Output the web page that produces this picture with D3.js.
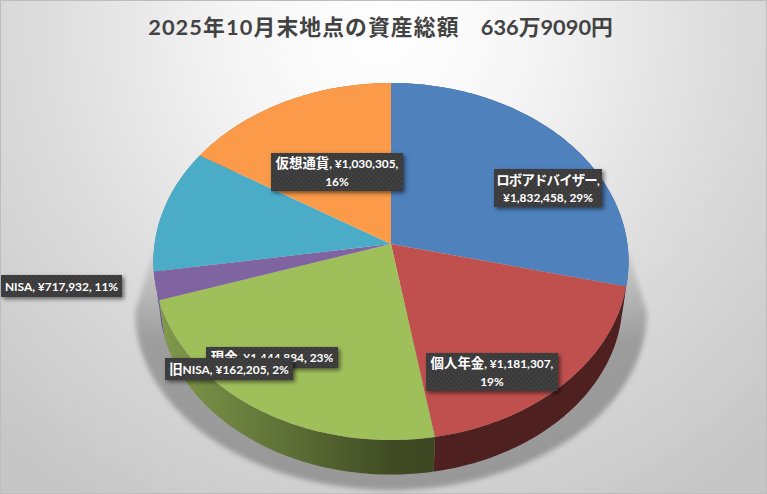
<!DOCTYPE html>
<meta charset="utf-8">
<style>
html, body { margin: 0; padding: 0; background: #fff; }
svg { display: block; }
.title { font: bold 21.8px Lato, "Noto Sans CJK JP", sans-serif; fill: #434343; text-anchor: middle; }
.lbl { font: bold 11.9px Lato, "Noto Sans CJK JP", sans-serif; fill: #fff; text-anchor: middle; }
.lbl .jp { font-size: 13.4px; }
</style>
<svg width="767" height="494"></svg>
<script src="https://d3js.org/d3.v7.min.js"></script>
<script>

var titleLeft = "2025年10月末地点の資産総額";
var titleRight = "636万9090円";
var categories = ["ロボアドバイザー", "個人年金", "現金", "旧NISA", "NISA", "仮想通貨"];
var values = [1832458, 1181307, 1444884, 162205, 717932, 1030305];
var percents = [29, 19, 23, 2, 11, 16];
var colors = ["#4f81bd", "#c0504d", "#9fbf5b", "#8064a2", "#4bacc8", "#fb9a48"];
var sideColors = ["#3a5f8c", "#4f2020", "url(#greenSide)", "#6a5190", "#37808f", "#b8702f"];

var svg = d3.select("svg"),
    width = +svg.attr("width"),
    height = +svg.attr("height");

// pie is a tilted disc: circle points go through a small perspective divide
var cx = 391, cy = 244, rx = 236.4, ry = 176.8, k = 0.098;
var cyLow = 283.5, scaleLow = 0.975;

function project(a, s, y0) {
  var u = Math.sin(a), v = -Math.cos(a), w = 1 - k * v;
  return [cx + s * rx * u / w, y0 + s * ry * v / w];
}

function arcPoints(d, s, y0) {
  var n = Math.max(2, Math.ceil((d.endAngle - d.startAngle) * 60));
  return d3.range(n + 1).map(function(i) {
    return project(d.startAngle + (d.endAngle - d.startAngle) * i / n, s, y0);
  });
}

var line = d3.line();
var defs = svg.append("defs");

var bg = defs.append("radialGradient").attr("id", "bg")
    .attr("gradientUnits", "userSpaceOnUse")
    .attr("cx", 383).attr("cy", 30).attr("r", 560);
bg.append("stop").attr("offset", 0).attr("stop-color", "#ffffff");
bg.append("stop").attr("offset", 0.25).attr("stop-color", "#f6f6f6");
bg.append("stop").attr("offset", 0.6).attr("stop-color", "#dddddd");
bg.append("stop").attr("offset", 1).attr("stop-color", "#c6c6c6");

var gs = defs.append("linearGradient").attr("id", "greenSide")
    .attr("gradientUnits", "userSpaceOnUse")
    .attr("x1", 160).attr("x2", 433).attr("y1", 0).attr("y2", 0);
gs.append("stop").attr("offset", 0).attr("stop-color", "#80994b");
gs.append("stop").attr("offset", 0.45).attr("stop-color", "#5f7237");
gs.append("stop").attr("offset", 0.85).attr("stop-color", "#404b23");
gs.append("stop").attr("offset", 1).attr("stop-color", "#3d4722");

var sg = defs.append("linearGradient").attr("id", "shadowFill")
    .attr("gradientUnits", "userSpaceOnUse")
    .attr("x1", 0).attr("x2", 0).attr("y1", 245).attr("y2", 340);
sg.append("stop").attr("offset", 0).attr("stop-color", "#000").attr("stop-opacity", 0.05);
sg.append("stop").attr("offset", 1).attr("stop-color", "#000").attr("stop-opacity", 0.27);

defs.append("filter").attr("id", "blur").attr("x", "-10%").attr("y", "-10%")
    .attr("width", "120%").attr("height", "120%")
  .append("feGaussianBlur").attr("stdDeviation", 2.5);

var ds = defs.append("filter").attr("id", "boxShadow").attr("x", "-10%").attr("y", "-20%")
    .attr("width", "125%").attr("height", "150%");
ds.append("feDropShadow").attr("dx", 2).attr("dy", 2).attr("stdDeviation", 2)
    .attr("flood-color", "#000").attr("flood-opacity", 0.55);

var pat = defs.append("pattern").attr("id", "dots").attr("patternUnits", "userSpaceOnUse")
    .attr("width", 5).attr("height", 5);
pat.append("rect").attr("width", 5).attr("height", 5).attr("fill", "#3a3a3a");
pat.append("circle").attr("cx", 1.25).attr("cy", 1.25).attr("r", 0.8).attr("fill", "#4a4a4a");
pat.append("circle").attr("cx", 3.75).attr("cy", 3.75).attr("r", 0.8).attr("fill", "#4a4a4a");

svg.append("rect")
    .attr("x", 0.5).attr("y", 0.5)
    .attr("width", width - 1).attr("height", height - 1)
    .attr("fill", "url(#bg)")
    .attr("stroke", "#bdbdbd");

var title = svg.append("text").attr("class", "title")
    .attr("x", 380.5).attr("y", 34.5);
title.append("tspan").attr("letter-spacing", "1.1px").text(titleLeft);
title.append("tspan").text("\u00a0\u00a0\u00a0\u00a0" + titleRight);

// floor shadow: cone down from the widest point of the disc
var shadowPts = [[628, 250]].concat(d3.range(0, 181, 4).map(function(t) {
  var a = t * Math.PI / 180;
  return [391 + 256 * Math.cos(a), 312 + 178 * Math.sin(a)];
})).concat([[154, 250]]);
svg.append("path")
    .attr("d", line(shadowPts) + "Z")
    .attr("fill", "url(#shadowFill)")
    .attr("filter", "url(#blur)");

var arcs = d3.pie().sort(null).startAngle(0).endAngle(2 * Math.PI)(values);

// side walls, back ones first
var sideOrder = arcs.slice().sort(function(a, b) {
  return Math.abs(Math.PI - (a.startAngle + a.endAngle) / 2) < Math.abs(Math.PI - (b.startAngle + b.endAngle) / 2) ? 1 : -1;
});
svg.append("g").selectAll("path")
    .data(sideOrder)
  .enter().append("path")
    .attr("fill", function(d) { return sideColors[d.index]; })
    .attr("d", function(d) {
      return line(arcPoints(d, 1, cy).concat(arcPoints(d, scaleLow, cyLow).reverse())) + "Z";
    });

// top faces
svg.append("g").selectAll("path")
    .data(arcs)
  .enter().append("path")
    .attr("fill", function(d) { return colors[d.index]; })
    .attr("d", function(d) {
      return line([[cx, cy]].concat(arcPoints(d, 1, cy))) + "Z";
    });

// data labels: box x, y, w, h and whether the text wraps after the yen value
var labelOrder = [0, 1, 2, 4, 5, 3];
var labelBoxes = {
  0: {x: 494, y: 169, w: 108, h: 38, wrap: 1},
  1: {x: 426, y: 353, w: 132, h: 38, wrap: 2},
  2: {x: 206, y: 347, w: 132, h: 21, wrap: 0},
  3: {x: 165, y: 358, w: 128, h: 22, wrap: 0},
  4: {x: 1, y: 275, w: 121, h: 22, wrap: 0},
  5: {x: 271, y: 153, w: 132, h: 38, wrap: 2}
};
var yen = d3.format(",");

var labels = svg.append("g").selectAll("g")
    .data(labelOrder)
  .enter().append("g");

labels.append("rect")
    .attr("x", function(i) { return labelBoxes[i].x; })
    .attr("y", function(i) { return labelBoxes[i].y; })
    .attr("width", function(i) { return labelBoxes[i].w; })
    .attr("height", function(i) { return labelBoxes[i].h; })
    .attr("fill", "url(#dots)")
    .attr("filter", "url(#boxShadow)");

labels.each(function(i) {
  var b = labelBoxes[i],
      g = d3.select(this),
      tail = "¥" + yen(values[i]) + ", " + percents[i] + "%",
      mx = b.x + b.w / 2;
  var jp = categories[i].replace(/NISA/, "");
  var latin = categories[i].replace(jp, "");
  var t = g.append("text").attr("class", "lbl").attr("x", mx);
  if (b.wrap == 0) {
    t.attr("y", b.y + b.h / 2 + 4.5);
    if (jp) t.append("tspan").attr("class", "jp").text(jp);
    t.append("tspan").text(latin + ", " + tail);
  } else if (b.wrap == 1) {
    t.attr("y", b.y + 16);
    t.append("tspan").attr("class", "jp").attr("letter-spacing", "-0.8px").text(categories[i]);
    t.append("tspan").text(",");
    g.append("text").attr("class", "lbl").attr("x", mx).attr("y", b.y + 33).text(tail);
  } else {
    t.attr("y", b.y + 15);
    t.append("tspan").attr("class", "jp").text(categories[i]);
    t.append("tspan").text(", ¥" + yen(values[i]) + ",");
    g.append("text").attr("class", "lbl").attr("x", mx).attr("y", b.y + 33).text(percents[i] + "%");
  }
});

</script>
